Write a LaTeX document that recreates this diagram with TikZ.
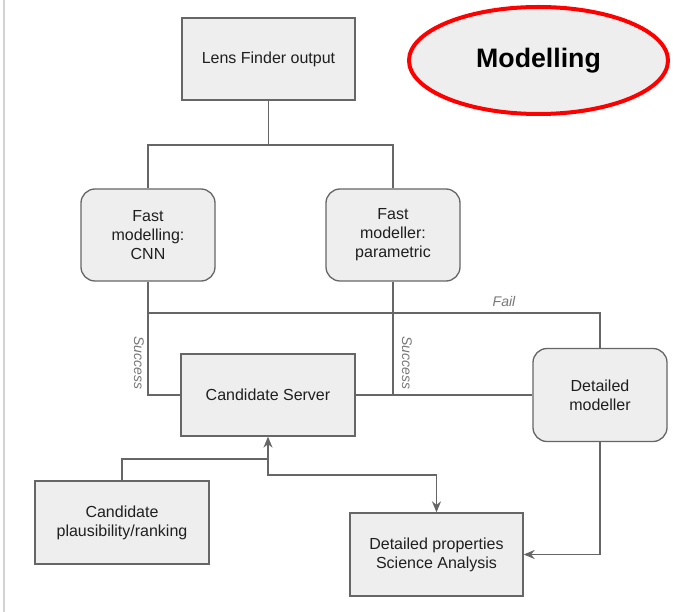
\documentclass[tikz,border=0pt]{standalone}
\usepackage{fontspec}
\setmainfont{Liberation Sans}
\usetikzlibrary{arrows.meta,shapes.geometric}
\definecolor{boxfill}{HTML}{EEEEEE}
\definecolor{boxline}{HTML}{666666}
\definecolor{lblgray}{HTML}{777777}
\begin{document}
\begin{tikzpicture}[x=1pt,y=-1pt,
 box/.style={draw=boxline,fill=boxfill,line width=1.3pt,inner sep=0pt,align=center,font=\fontsize{16}{19}\selectfont,text=black!88},
 rbox/.style={box,rounded corners=14pt},
 conn/.style={draw=boxline,line width=1.3pt},
 arr/.style={conn,-{Stealth[length=11pt,width=9pt,inset=3.5pt]}},
 lbl/.style={text=lblgray,font=\fontsize{14}{16}\selectfont\itshape,inner sep=0pt}]
\useasboundingbox (0,0) rectangle (673,612);
\fill[gray!35] (2.5,0) rectangle (5,612);
\node[box,minimum width=173pt,minimum height=82pt] (lens) at (268.5,59) {Lens Finder output};
\node[rbox,minimum width=134pt,minimum height=92pt] (cnn) at (148,235) {Fast\\modelling:\\CNN};
\node[rbox,minimum width=134pt,minimum height=92pt] (par) at (393,235) {Fast\\modeller:\\parametric};
\node[box,minimum width=174pt,minimum height=82pt] (cs) at (268,395) {Candidate Server};
\node[rbox,minimum width=134pt,minimum height=93pt] (dm) at (600,395) {Detailed\\modeller};
\node[box,minimum width=174pt,minimum height=83pt] (cp) at (122,522.5) {Candidate\\plausibility/ranking};
\node[box,minimum width=173pt,minimum height=83pt] (dp) at (436.5,554.5) {Detailed properties\\Science Analysis};
\node[ellipse,draw=red,fill=boxfill,line width=4pt,minimum width=259pt,minimum height=107pt,inner sep=0pt,font=\bfseries\fontsize{26.7}{30}\selectfont] (mod) at (538.5,60.5) {Modelling};
\coordinate (split) at (268.5,145);
\draw[conn] (lens.south) -- (split);
\draw[conn] (cnn.north) |- (split) -| (par.north);
\draw[conn] (cnn.south) |- (cs.west);
\coordinate (failrow) at (148,313);
\draw[conn] (failrow) -| (dm.north);
\draw[conn] (par.south) -- (par.south |- cs.east);
\draw[conn] (cs.east) -- (dm.west);
\node[lbl,rotate=-90] (s1) at (139,363) {Success};
\node[lbl,rotate=-90] (s2) at (407,363) {Success};
\node[lbl] (fail) at (504,301) {Fail};
\coordinate (m1) at (268,459);
\draw[arr] (cp.north) |- (m1) -- (cs.south);
\draw[arr] (m1) -- ++(0,16) -| (dp.north);
\draw[arr] (dm.south) |- (dp.east);
\end{tikzpicture}
\end{document}
